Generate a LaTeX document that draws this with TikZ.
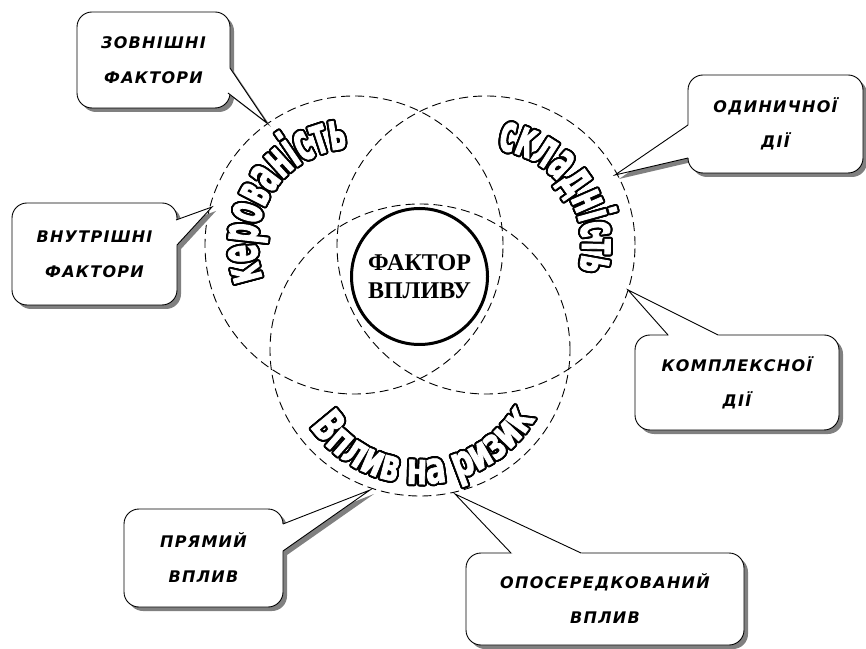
\documentclass[tikz,border=0pt]{standalone}
\usepackage{fontspec}
\setmainfont{Liberation Serif}
\newfontfamily\calfont{DejaVu Sans}[LetterSpace=8]
\newfontfamily\wordL{DejaVu Sans}[UprightFont=* Bold, FakeStretch=0.5, FakeBold=1.5]
\newfontfamily\wordB{DejaVu Sans}[UprightFont=* Bold, FakeStretch=0.68, FakeBold=1.5]
\usetikzlibrary{decorations.text,calc}

\tikzset{
  dashc/.style={draw, dash pattern=on 9pt off 5pt, line width=0.9pt},
  calltext/.style={font=\calfont\bfseries\itshape\fontsize{16}{35}\selectfont, align=center, inner sep=0pt},
  shadowc/.style={fill=black!50},
  boxline/.style={line width=0.9pt}
}

% #1 name, #2 L, #3 T, #4 R, #5 B, #6 base1, #7 tip, #8 base2, #9 text
\newcommand\callout[9]{%
  \fill[shadowc, shift={(4pt,-4pt)}, rounded corners=15pt] (#2,#5) rectangle (#4,#3);
  \fill[shadowc, shift={(4pt,-4pt)}] (#6) -- (#7) -- (#8) -- cycle;
  \draw[boxline, fill=white, rounded corners=15pt] (#2,#5) rectangle (#4,#3);
  \fill[white] (#6) -- (#7) -- (#8) -- ($(#2,#5)!0.5!(#4,#3)$) -- cycle;
  \draw[boxline, line join=miter] (#6) -- (#7) -- (#8);
  \node[calltext] (#1) at ($(#2,#5)!0.5!(#4,#3)$) {#9};
}

% #1 centre, #2 start angle, #3 end angle, #4 radius, #5 font, #6 word
\newcommand\arcword[6]{%
  {#5%
  \foreach \r in {1pt,2pt}{
  \foreach \a in {0,15,...,345}{
    \path[decorate, decoration={text along path, text align=center,
      text={|\color{black}|#6}}] ([shift={(\a:\r)}]#1) ++(#2:#4) arc[start angle=#2, end angle=#3, radius=#4];
  }}
  \path[decorate, decoration={text along path, text align=center,
      text={|\color{white}|#6}}] (#1) ++(#2:#4) arc[start angle=#2, end angle=#3, radius=#4];
  }%
}

\begin{document}
\begin{tikzpicture}[x=1pt, y=1pt]
\useasboundingbox (0,0) rectangle (866,648);

% circles
\coordinate (cL) at (354,403);
\coordinate (cR) at (486,403);
\coordinate (cB) at (420,298);
\draw[dashc] (cL) circle[radius=149];
\draw[dashc] (cR) circle[radius=149];
\draw[dashc] (cB) ellipse[x radius=150, y radius=146];

\node[circle, draw, line width=3pt, minimum size=136pt, inner sep=0pt, align=center,
      font=\bfseries\fontsize{24}{28}\selectfont] (centre) at (419.5,371.5) {ФАКТОР\\ВПЛИВУ};

% curved words
\arcword{cL}{205}{89}{97}{\wordL\fontsize{52}{52}\selectfont}{керованість}
\arcword{cR}{94}{-26}{96}{\wordL\fontsize{52}{52}\selectfont}{складність}
\arcword{cB}{200}{344}{134}{\wordB\fontsize{44}{44}\selectfont}{Вплив на ризик}

% callouts
\callout{zovn}{77}{636}{230}{540}{230,580}{267,525}{228,555}{ЗОВНІШНІ\\ФАКТОРИ}
\callout{vnut}{12}{445}{177}{343}{176,428}{212,441}{177,403}{ВНУТРІШНІ\\ФАКТОРИ}
\callout{odyn}{688}{573}{863}{475}{688,523}{615,473}{688,490}{ОДИНИЧНОЇ\\ДІЇ}
\callout{kompl}{635}{313}{839}{218}{668,313}{628,358}{718,313}{КОМПЛЕКСНОЇ\\ДІЇ}
\callout{pryam}{124}{139}{283}{41}{283,124}{370,158}{283,97}{ПРЯМИЙ\\ВПЛИВ}
\callout{oposer}{466}{95}{744}{3}{511,95}{455,154}{581,95}{ОПОСЕРЕДКОВАНИЙ\\ВПЛИВ}
\end{tikzpicture}
\end{document}
